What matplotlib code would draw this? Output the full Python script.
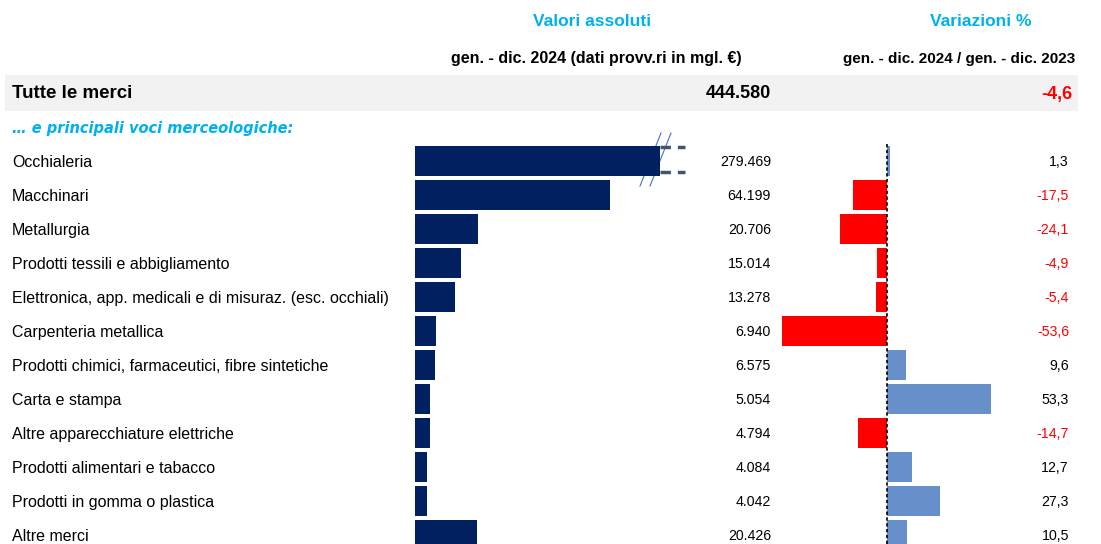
import matplotlib
matplotlib.use("Agg")
import matplotlib.pyplot as plt
from matplotlib import font_manager
from matplotlib.lines import Line2D
from matplotlib.patches import Rectangle

categories = [
    "Occhialeria", "Macchinari", "Metallurgia", "Prodotti tessili e abbigliamento",
    "Elettronica, app. medicali e di misuraz. (esc. occhiali)", "Carpenteria metallica",
    "Prodotti chimici, farmaceutici, fibre sintetiche", "Carta e stampa",
    "Altre apparecchiature elettriche", "Prodotti alimentari e tabacco",
    "Prodotti in gomma o plastica", "Altre merci",
]
values_abs = [279469, 64199, 20706, 15014, 13278, 6940, 6575, 5054, 4794, 4084, 4042, 20426]
values_var = [1.3, -17.5, -24.1, -4.9, -5.4, -53.6, 9.6, 53.3, -14.7, 12.7, 27.3, 10.5]
total_label = "Tutte le merci"
total_abs = 444580
total_var = -4.6

W, H = 1101, 544
fig = plt.figure(figsize=(W / 100, H / 100), dpi=100)

names = {f.name for f in font_manager.fontManager.ttflist}
base = "Liberation Sans" if "Liberation Sans" in names else "DejaVu Sans"
narrow = "Liberation Sans Narrow" if "Liberation Sans Narrow" in names else base
plt.rcParams["font.family"] = [base, "DejaVu Sans"]

def fmt_int(v):
    return f"{v:,}".replace(",", ".")

def fmt_pct(v):
    return f"{v:.1f}".replace(".", ",")

ov = fig.add_axes([0, 0, 1, 1])
ov.set_xlim(0, W)
ov.set_ylim(H, 0)
ov.axis("off")

NAVY = "#002060"
RED = "#FF0000"
BLUE = "#678FC9"
CYAN = "#00B0F0"

ov.add_patch(Rectangle((5, 75), 1073, 36, color="#F2F2F2", lw=0, zorder=0))

ov.text(592, 21, "Valori assoluti", color=CYAN, fontsize=12.5, fontweight="bold",
        family=[narrow, "DejaVu Sans"], ha="center", va="center")
ov.text(981, 21, "Variazioni %", color=CYAN, fontsize=12.5, fontweight="bold",
        family=[narrow, "DejaVu Sans"], ha="center", va="center")
ov.text(596, 59, "gen. - dic. 2024 (dati provv.ri in mgl. €)", color="black", fontsize=11.5,
        fontweight="bold", family=[narrow, "DejaVu Sans"], ha="center", va="center")
ov.text(1075, 59, "gen. - dic. 2024 / gen. - dic. 2023", color="black", fontsize=11,
        fontweight="bold", family=[narrow, "DejaVu Sans"], ha="right", va="center")

ov.text(12, 94, total_label, fontsize=13.5, fontweight="bold", family=[narrow, "DejaVu Sans"],
        ha="left", va="center")
ov.text(771, 94, fmt_int(total_abs), fontsize=13, fontweight="bold",
        family=[narrow, "DejaVu Sans"], ha="right", va="center")
ov.text(1072, 94, fmt_pct(total_var), fontsize=13, fontweight="bold", color=RED,
        family=[narrow, "DejaVu Sans"], ha="right", va="center")
ov.text(12, 128, "… e principali voci merceologiche:", fontsize=10.5, fontweight="bold",
        style="italic", color=CYAN, family=["DejaVu Sans"], ha="left", va="center")

row0, dy = 161, 34.0
for i, (c, a, v) in enumerate(zip(categories, values_abs, values_var)):
    y = row0 + i * dy + 1.5
    ov.text(12, y, c, fontsize=11.5, ha="left", va="center")
    ov.text(771, y, fmt_int(a), fontsize=10.2, ha="right", va="center")
    ov.text(1069, y, fmt_pct(v), fontsize=10.2, ha="right", va="center",
            color=RED if v < 0 else "black")

n = len(categories)
ytop_px, ybot_px = 144, 544
lx0, lx1 = 415, 660
scale_l = (610 - 415) / 64199.0
axl = fig.add_axes([lx0 / W, 1 - ybot_px / H, (lx1 - lx0) / W, (ybot_px - ytop_px) / H])
axl.barh(range(n), values_abs, height=0.86, color=NAVY)
axl.set_xlim(0, (lx1 - lx0) / scale_l)
axl.set_ylim((ybot_px - row0) / dy, (ytop_px - row0) / dy)
axl.axis("off")

rx0, rx1 = 775, 1000
zero_px = 887
scale_r = (991 - 887) / 53.3
axr = fig.add_axes([rx0 / W, 1 - ybot_px / H, (rx1 - rx0) / W, (ybot_px - ytop_px) / H])
axr.barh(range(n), values_var, height=0.86,
         color=[RED if v < 0 else BLUE for v in values_var])
axr.set_xlim((rx0 - zero_px) / scale_r, (rx1 - zero_px) / scale_r)
axr.set_ylim((ybot_px - row0) / dy, (ytop_px - row0) / dy)
axr.axvline(0, color="black", lw=1.2, ls=(0, (2, 1.5)), zorder=3)
axr.axis("off")

ov.add_line(Line2D([640, 661], [186, 133], color="#4472C4", lw=0.8))
ov.add_line(Line2D([650, 671], [186, 133], color="#4472C4", lw=0.8))
ov.add_line(Line2D([660, 685], [146.5, 146.5], color="#44546A", lw=2.5, ls=(0, (3, 2))))
ov.add_line(Line2D([660, 685], [171.5, 171.5], color="#44546A", lw=2.5, ls=(0, (3, 2))))

fig.savefig("out.png", dpi=100)
